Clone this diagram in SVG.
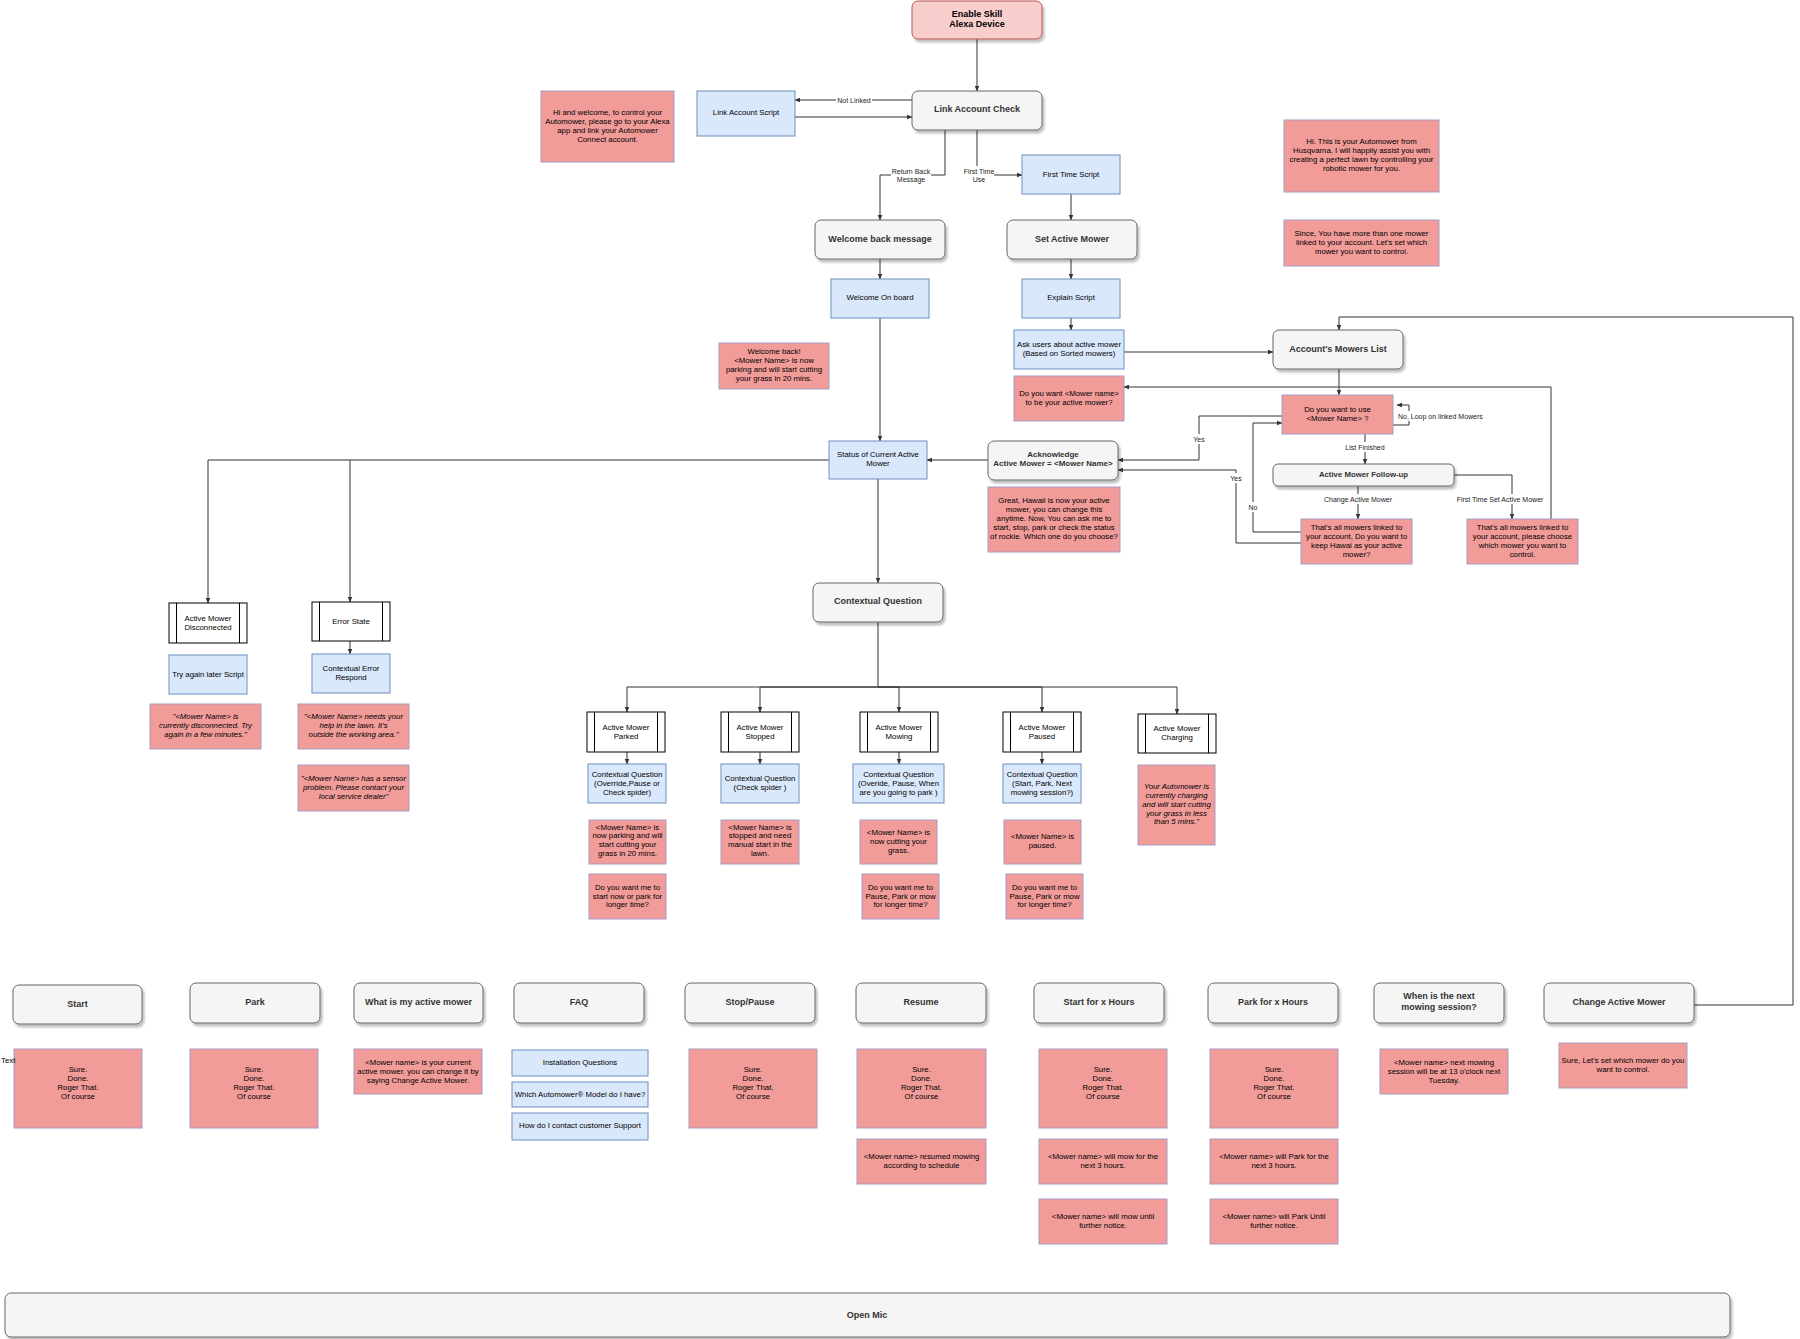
<svg xmlns="http://www.w3.org/2000/svg" width="1800" height="1339" viewBox="0 0 1800 1339">
<defs>
<style>
text{font-family:"Liberation Sans",Arial,Helvetica,sans-serif;text-anchor:middle;fill:#000}
.t{font-size:7.8px}
.ti{font-size:7.8px;font-style:italic}
.tb{font-size:9px;font-weight:bold;fill:#333}
.tb8{font-size:8px;font-weight:bold;fill:#333}
.el{font-size:7px;fill:#222}
.g{fill:#f5f5f5;stroke:#666;stroke-width:1}
.b{fill:#dae8fc;stroke:#6c8ebf;stroke-width:1}
.r{fill:#f19c99;stroke:#a89bc4;stroke-width:1}
.pk{fill:#f8cecc;stroke:#b85450;stroke-width:1}
.p{fill:#fff;stroke:#000;stroke-width:1}
.c{fill:none;stroke:#333;stroke-width:1;marker-end:url(#a)}
.cn{fill:none;stroke:#333;stroke-width:1}
.lb{fill:#fff;stroke:none}
</style>
<marker id="a" viewBox="0 0 10 10" refX="9" refY="5" markerWidth="6" markerHeight="6" orient="auto"><path d="M0,1 L10,5 L0,9 z" fill="#333"/></marker>
<filter id="sh" x="-10%" y="-20%" width="130%" height="160%"><feDropShadow dx="2" dy="3" stdDeviation="1" flood-color="#000" flood-opacity="0.25"/></filter>
</defs>
<rect width="1800" height="1339" fill="#fff"/>

<g id="connectors">
<path class="c" d="M977,39 V91"/>
<path class="c" d="M912,100 H795"/>
<path class="c" d="M795,117 H912"/>
<path class="c" d="M945,130 V175 H880 V220"/>
<path class="c" d="M977,130 V175 H1022"/>
<path class="c" d="M1071,194 V220"/>
<path class="c" d="M880,259 V279"/>
<path class="c" d="M1071,259 V279"/>
<path class="c" d="M1071,318 V330"/>
<path class="c" d="M880,318 V441"/>
<path class="c" d="M1124,352 H1273"/>
<path class="c" d="M1339,369 V395"/>
<path class="c" d="M1393,425 H1409 V405 H1397"/>
<path class="c" d="M1282,416 H1199 V460 H1118"/>
<path class="c" d="M1365,434 V464"/>
<path class="c" d="M1358,486 V519"/>
<path class="c" d="M1454,475 H1512 V519"/>
<path class="c" d="M1301,532 H1253 V423 H1282"/>
<path class="c" d="M1301,543 H1236 V470 H1118"/>
<path class="c" d="M1551,519 V387 H1124"/>
<path class="c" d="M1694,1005 H1793 V317 H1339 V330"/>
<path class="c" d="M988,460 H927"/>
<path class="c" d="M878,479 V583"/>
<path class="c" d="M829,460 H208 V603"/>
<path class="c" d="M350,460 V602"/>
<path class="c" d="M350,641 V654"/>
<path class="c" d="M878,622 V687 H627 V712"/>
<path class="c" d="M878,687 H760 V712"/>
<path class="c" d="M878,687 H899 V712"/>
<path class="c" d="M878,687 H1042 V712"/>
<path class="c" d="M878,687 H1177 V714"/>
<path class="c" d="M627,752 V764"/>
<path class="c" d="M760,752 V764"/>
<path class="c" d="M899,752 V764"/>
<path class="c" d="M1042,752 V764"/>
<rect class="lb" x="836" y="96" width="36" height="9"/>
<text class="el" x="854" y="102.8">Not Linked</text>
<rect class="lb" x="891" y="166" width="40" height="18"/>
<text class="el"><tspan x="911" y="173.5">Return Back</tspan><tspan x="911" y="182.2">Message</tspan></text>
<rect class="lb" x="964" y="166" width="30" height="18"/>
<text class="el"><tspan x="979" y="173.5">First Time</tspan><tspan x="979" y="182.2">Use</tspan></text>
<rect class="lb" x="1397" y="411" width="90" height="10"/>
<text class="el" x="1398" y="419" style="text-anchor:start">No, Loop on linked Mowers</text>
<rect class="lb" x="1192" y="434" width="14" height="10"/>
<text class="el" x="1199" y="441.5">Yes</text>
<rect class="lb" x="1344" y="442" width="42" height="10"/>
<text class="el" x="1365" y="449.5">List Finished</text>
<rect class="lb" x="1324" y="494" width="68" height="10"/>
<text class="el" x="1358" y="501.5">Change Active Mower</text>
<rect class="lb" x="1455" y="494" width="90" height="10"/>
<text class="el" x="1500" y="501.5">First Time Set Active Mower</text>
<rect class="lb" x="1247" y="502" width="12" height="10"/>
<text class="el" x="1253" y="509.5">No</text>
<rect class="lb" x="1229" y="473" width="14" height="10"/>
<text class="el" x="1236" y="480.5">Yes</text>
</g>

<g id="enable-skill"><rect x="912" y="1" width="130" height="38" rx="6" class="pk" filter="url(#sh)"/><text class="tb" style="fill:#000"><tspan x="977" y="16.5">Enable Skill</tspan><tspan x="977" y="27.2">Alexa Device</tspan></text></g>
<g id="link-account-check"><rect x="912" y="91" width="130" height="39" rx="6" class="g" filter="url(#sh)"/><text class="tb" x="977" y="112.2">Link Account Check</text></g>
<g id="link-account-script"><rect x="697" y="91" width="98" height="45" class="b"/><text class="t" x="746" y="115">Link Account Script</text></g>
<g id="hi-welcome"><rect x="541" y="91" width="133" height="71" class="r"/><text class="t"><tspan x="607.5" y="114.7">Hi and welcome, to control your</tspan><tspan x="607.5" y="123.7">Automower, please go to your Alexa</tspan><tspan x="607.5" y="132.7">app and link your Automower</tspan><tspan x="607.5" y="141.7">Connect account.</tspan></text></g>
<g id="first-time-script"><rect x="1022" y="155" width="98" height="39" class="b"/><text class="t" x="1071" y="176.7">First Time Script</text></g>
<g id="welcome-back-message"><rect x="815" y="220" width="130" height="39" rx="6" class="g" filter="url(#sh)"/><text class="tb" x="880" y="241.9">Welcome back message</text></g>
<g id="set-active-mower"><rect x="1007" y="220" width="130" height="39" rx="6" class="g" filter="url(#sh)"/><text class="tb" x="1072" y="241.5">Set Active Mower</text></g>
<g id="welcome-on-board"><rect x="831" y="279" width="98" height="39" class="b"/><text class="t" x="880" y="299.7">Welcome On board</text></g>
<g id="explain-script"><rect x="1022" y="279" width="98" height="39" class="b"/><text class="t" x="1071" y="299.7">Explain Script</text></g>
<g id="ask-users"><rect x="1014" y="330" width="110" height="39" class="b"/><text class="t"><tspan x="1069" y="347">Ask users about active mower</tspan><tspan x="1069" y="356">(Based on Sorted mowers)</tspan></text></g>
<g id="do-you-want-mower-name"><rect x="1014" y="376" width="110" height="45" class="r"/><text class="t"><tspan x="1069" y="395.7">Do you want &lt;Mower name&gt;</tspan><tspan x="1069" y="404.7">to be your active mower?</tspan></text></g>
<g id="accounts-mowers-list"><rect x="1273" y="330" width="130" height="39" rx="6" class="g" filter="url(#sh)"/><text class="tb" x="1338" y="351.5">Account's Mowers List</text></g>
<g id="hi-this-is"><rect x="1284" y="120" width="155" height="72" class="r"/><text class="t"><tspan x="1361.5" y="143.7">Hi. This is your Automower from</tspan><tspan x="1361.5" y="152.7">Husqvarna. I will happily assist you with</tspan><tspan x="1361.5" y="162">creating a perfect lawn by controlling your</tspan><tspan x="1361.5" y="171">robotic mower for you.</tspan></text></g>
<g id="since-you-have"><rect x="1284" y="220" width="155" height="46" class="r"/><text class="t"><tspan x="1361.5" y="235.7">Since, You have more than one mower</tspan><tspan x="1361.5" y="244.7">linked to your account. Let's set which</tspan><tspan x="1361.5" y="254">mower you want to control.</tspan></text></g>
<g id="do-you-want-to-use"><rect x="1282" y="395" width="111" height="39" class="r"/><text class="t"><tspan x="1337.5" y="411.7">Do you want to use</tspan><tspan x="1337.5" y="420.7">&lt;Mower Name&gt; ?</tspan></text></g>
<g id="active-mower-follow-up"><rect x="1273" y="464" width="181" height="22" rx="5" class="g" filter="url(#sh)"/><text class="tb" style="font-size:7.8px" x="1363.5" y="476.8">Active Mower Follow-up</text></g>
<g id="thats-all-keep"><rect x="1301" y="519" width="111" height="45" class="r"/><text class="t"><tspan x="1356.5" y="529.7">That's all mowers linked to</tspan><tspan x="1356.5" y="538.7">your account, Do you want to</tspan><tspan x="1356.5" y="548">keep Hawai as your active</tspan><tspan x="1356.5" y="556.7">mower?</tspan></text></g>
<g id="thats-all-choose"><rect x="1467" y="519" width="111" height="45" class="r"/><text class="t"><tspan x="1522.5" y="529.7">That's all mowers linked to</tspan><tspan x="1522.5" y="538.7">your account, please choose</tspan><tspan x="1522.5" y="548">which mower you want to</tspan><tspan x="1522.5" y="556.7">control.</tspan></text></g>
<g id="acknowledge"><rect x="988" y="441" width="130" height="39" rx="6" class="g" filter="url(#sh)"/><text class="tb8"><tspan x="1053" y="456.6">Acknowledge</tspan><tspan x="1053" y="465.6">Active Mower = &lt;Mower Name&gt;</tspan></text></g>
<g id="great-hawaii"><rect x="988" y="487" width="132" height="65" class="r"/><text class="t"><tspan x="1054" y="503">Great, Hawaii is now your active</tspan><tspan x="1054" y="512">mower, you can change this</tspan><tspan x="1054" y="521">anytime. Now, You can ask me to</tspan><tspan x="1054" y="530">start, stop, park or check the status</tspan><tspan x="1054" y="539.4">of rockie. Which one do you choose?</tspan></text></g>
<g id="welcome-back-note"><rect x="719" y="343" width="110" height="46" class="r"/><text class="t"><tspan x="774" y="354">Welcome back!</tspan><tspan x="774" y="363">&lt;Mower Name&gt; is now</tspan><tspan x="774" y="372.4">parking and will start cutting</tspan><tspan x="774" y="381.4">your grass in 20 mins.</tspan></text></g>
<g id="status-current"><rect x="829" y="441" width="98" height="38" class="b"/><text class="t"><tspan x="878" y="456.7">Status of Current Active</tspan><tspan x="878" y="466">Mower</tspan></text></g>
<g id="contextual-question"><rect x="813" y="583" width="130" height="39" rx="6" class="g" filter="url(#sh)"/><text class="tb" x="878" y="603.9">Contextual Question</text></g>

<g id="mower-disconnected"><rect x="169" y="603" width="78" height="40" class="p"/><path class="cn" d="M176.5,603 V643 M239.5,603 V643" style="stroke:#000"/><text class="t"><tspan x="208" y="621.4">Active Mower</tspan><tspan x="208" y="630">Disconnected</tspan></text></g>
<g id="error-state"><rect x="312" y="602" width="78" height="39" class="p"/><path class="cn" d="M319.5,602 V641 M382.5,602 V641" style="stroke:#000"/><text class="t" x="351" y="624">Error State</text></g>
<g id="try-again-script"><rect x="169" y="655" width="78" height="39" class="b"/><text class="t" x="208" y="677">Try again later Script</text></g>
<g id="contextual-error"><rect x="312" y="654" width="78" height="39" class="b"/><text class="t"><tspan x="351" y="671.4">Contextual Error</tspan><tspan x="351" y="680.4">Respond</tspan></text></g>
<g id="disconnected-note"><rect x="150" y="704" width="111" height="45" class="r"/><text class="ti"><tspan x="205.5" y="719.4">"&lt;Mower Name&gt; is</tspan><tspan x="205.5" y="728.4">currently disconnected. Try</tspan><tspan x="205.5" y="737.4">again in a few minutes."</tspan></text></g>
<g id="needs-help-note"><rect x="298" y="704" width="111" height="45" class="r"/><text class="ti"><tspan x="353.5" y="719.4">"&lt;Mower Name&gt; needs your</tspan><tspan x="353.5" y="728.4">help in the lawn. It's</tspan><tspan x="353.5" y="737.4">outside the working area."</tspan></text></g>
<g id="sensor-note"><rect x="298" y="765" width="111" height="46" class="r"/><text class="ti"><tspan x="353.5" y="781">"&lt;Mower Name&gt; has a sensor</tspan><tspan x="353.5" y="790">problem. Please contact your</tspan><tspan x="353.5" y="799">local service dealer"</tspan></text></g>

<g id="mower-parked"><rect x="587" y="712" width="78" height="40" class="p"/><path class="cn" d="M594.5,712 V752 M657.5,712 V752" style="stroke:#000"/><text class="t"><tspan x="626" y="730">Active Mower</tspan><tspan x="626" y="738.7">Parked</tspan></text></g>
<g id="mower-stopped"><rect x="721" y="712" width="78" height="40" class="p"/><path class="cn" d="M728.5,712 V752 M791.5,712 V752" style="stroke:#000"/><text class="t"><tspan x="760" y="730">Active Mower</tspan><tspan x="760" y="738.7">Stopped</tspan></text></g>
<g id="mower-mowing"><rect x="860" y="712" width="78" height="40" class="p"/><path class="cn" d="M867.5,712 V752 M930.5,712 V752" style="stroke:#000"/><text class="t"><tspan x="899" y="730">Active Mower</tspan><tspan x="899" y="738.7">Mowing</tspan></text></g>
<g id="mower-paused"><rect x="1003" y="712" width="78" height="40" class="p"/><path class="cn" d="M1010.5,712 V752 M1073.5,712 V752" style="stroke:#000"/><text class="t"><tspan x="1042" y="730">Active Mower</tspan><tspan x="1042" y="738.7">Paused</tspan></text></g>
<g id="mower-charging"><rect x="1138" y="714" width="78" height="39" class="p"/><path class="cn" d="M1145.5,714 V753 M1208.5,714 V753" style="stroke:#000"/><text class="t"><tspan x="1177" y="731">Active Mower</tspan><tspan x="1177" y="740">Charging</tspan></text></g>
<g id="cq-parked"><rect x="588" y="764" width="78" height="39" class="b"/><text class="t"><tspan x="627" y="777">Contextual Question</tspan><tspan x="627" y="785.7">(Override,Pause or</tspan><tspan x="627" y="794.7">Check spider)</tspan></text></g>
<g id="cq-stopped"><rect x="721" y="764" width="78" height="39" class="b"/><text class="t"><tspan x="760" y="781.4">Contextual Question</tspan><tspan x="760" y="790">(Check spider )</tspan></text></g>
<g id="cq-mowing"><rect x="853" y="764" width="91" height="39" class="b"/><text class="t"><tspan x="898.5" y="777">Contextual Question</tspan><tspan x="898.5" y="785.7">(Overide, Pause, When</tspan><tspan x="898.5" y="794.7">are you going to park )</tspan></text></g>
<g id="cq-paused"><rect x="1003" y="764" width="78" height="39" class="b"/><text class="t"><tspan x="1042" y="777">Contextual Question</tspan><tspan x="1042" y="785.7">(Start, Park, Next</tspan><tspan x="1042" y="794.7">mowing session?)</tspan></text></g>
<g id="parked-note"><rect x="589" y="820" width="77" height="44" class="r"/><text class="t"><tspan x="627.5" y="829.7">&lt;Mower Name&gt; is</tspan><tspan x="627.5" y="838.4">now parking and will</tspan><tspan x="627.5" y="847.4">start cutting your</tspan><tspan x="627.5" y="856">grass in 20 mins.</tspan></text></g>
<g id="stopped-note"><rect x="721" y="820" width="78" height="44" class="r"/><text class="t"><tspan x="760" y="829.7">&lt;Mower Name&gt; is</tspan><tspan x="760" y="838.4">stopped and need</tspan><tspan x="760" y="847.4">manual start in the</tspan><tspan x="760" y="856">lawn.</tspan></text></g>
<g id="mowing-note"><rect x="860" y="820" width="77" height="44" class="r"/><text class="t"><tspan x="898.5" y="835">&lt;Mower Name&gt; is</tspan><tspan x="898.5" y="844">now cutting your</tspan><tspan x="898.5" y="853">grass.</tspan></text></g>
<g id="paused-note"><rect x="1004" y="820" width="77" height="44" class="r"/><text class="t"><tspan x="1042.5" y="839.4">&lt;Mower Name&gt; is</tspan><tspan x="1042.5" y="848.4">paused.</tspan></text></g>
<g id="charging-note"><rect x="1138" y="765" width="77" height="80" class="r"/><text class="ti"><tspan x="1176.5" y="789.4">Your Automower is</tspan><tspan x="1176.5" y="798">currently charging</tspan><tspan x="1176.5" y="806.7">and will start cutting</tspan><tspan x="1176.5" y="815.7">your grass in less</tspan><tspan x="1176.5" y="824.4">than 5 mins."</tspan></text></g>
<g id="parked-question"><rect x="589" y="874" width="77" height="45" class="r"/><text class="t"><tspan x="627.5" y="889.7">Do you want me to</tspan><tspan x="627.5" y="898.7">start now or park for</tspan><tspan x="627.5" y="907.4">longer time?</tspan></text></g>
<g id="mowing-question"><rect x="862" y="874" width="77" height="45" class="r"/><text class="t"><tspan x="900.5" y="889.7">Do you want me to</tspan><tspan x="900.5" y="898.7">Pause, Park or mow</tspan><tspan x="900.5" y="907.4">for longer time?</tspan></text></g>
<g id="paused-question"><rect x="1006" y="874" width="77" height="45" class="r"/><text class="t"><tspan x="1044.5" y="889.7">Do you want me to</tspan><tspan x="1044.5" y="898.7">Pause, Park or mow</tspan><tspan x="1044.5" y="907.4">for longer time?</tspan></text></g>

<g id="intent-start"><rect x="13" y="985" width="129" height="39" rx="6" class="g" filter="url(#sh)"/><text class="tb" x="77.5" y="1007">Start</text></g>
<g id="intent-start-reply"><rect x="14" y="1049" width="128" height="79" class="r"/><text class="t"><tspan x="78" y="1071.7">Sure.</tspan><tspan x="78" y="1081">Done.</tspan><tspan x="78" y="1090">Roger That.</tspan><tspan x="78" y="1099">Of course</tspan></text></g>
<g id="text-label"><text class="t" x="1" y="1062.7" style="text-anchor:start">Text</text></g>
<g id="intent-park"><rect x="190" y="983" width="130" height="40" rx="6" class="g" filter="url(#sh)"/><text class="tb" x="255" y="1005">Park</text></g>
<g id="intent-park-reply"><rect x="190" y="1049" width="128" height="79" class="r"/><text class="t"><tspan x="254" y="1071.7">Sure.</tspan><tspan x="254" y="1081">Done.</tspan><tspan x="254" y="1090">Roger That.</tspan><tspan x="254" y="1099">Of course</tspan></text></g>
<g id="intent-what-active"><rect x="354" y="983" width="129" height="40" rx="6" class="g" filter="url(#sh)"/><text class="tb" x="418.5" y="1005">What is my active mower</text></g>
<g id="intent-what-active-reply"><rect x="354" y="1049" width="128" height="45" class="r"/><text class="t"><tspan x="418" y="1064.7">&lt;Mower name&gt; is your current</tspan><tspan x="418" y="1073.7">active mower. you can change it by</tspan><tspan x="418" y="1082.7">saying Change Active Mower.</tspan></text></g>
<g id="intent-faq"><rect x="514" y="983" width="130" height="40" rx="6" class="g" filter="url(#sh)"/><text class="tb" x="579" y="1005">FAQ</text></g>
<g id="faq-installation"><rect x="512" y="1050" width="136" height="26" class="b"/><text class="t" x="580" y="1065.4">Installation Questions</text></g>
<g id="faq-model"><rect x="512" y="1082" width="136" height="25" class="b"/><text class="t" x="580" y="1097">Which Automower® Model do I have?</text></g>
<g id="faq-support"><rect x="512" y="1113" width="136" height="27" class="b"/><text class="t" x="580" y="1128.4">How do I contact customer Support</text></g>
<g id="intent-stop"><rect x="685" y="983" width="130" height="40" rx="6" class="g" filter="url(#sh)"/><text class="tb" x="750" y="1005">Stop/Pause</text></g>
<g id="intent-stop-reply"><rect x="689" y="1049" width="128" height="79" class="r"/><text class="t"><tspan x="753" y="1071.7">Sure.</tspan><tspan x="753" y="1081">Done.</tspan><tspan x="753" y="1090">Roger That.</tspan><tspan x="753" y="1099">Of course</tspan></text></g>
<g id="intent-resume"><rect x="856" y="983" width="130" height="40" rx="6" class="g" filter="url(#sh)"/><text class="tb" x="921" y="1005">Resume</text></g>
<g id="intent-resume-reply"><rect x="857" y="1049" width="129" height="79" class="r"/><text class="t"><tspan x="921.5" y="1071.7">Sure.</tspan><tspan x="921.5" y="1081">Done.</tspan><tspan x="921.5" y="1090">Roger That.</tspan><tspan x="921.5" y="1099">Of course</tspan></text></g>
<g id="intent-resume-reply2"><rect x="857" y="1139" width="129" height="45" class="r"/><text class="t"><tspan x="921.5" y="1159.4">&lt;Mower name&gt; resumed mowing</tspan><tspan x="921.5" y="1168.4">according to schedule</tspan></text></g>
<g id="intent-start-hours"><rect x="1034" y="983" width="130" height="40" rx="6" class="g" filter="url(#sh)"/><text class="tb" x="1099" y="1005">Start for x Hours</text></g>
<g id="start-hours-reply"><rect x="1039" y="1049" width="128" height="79" class="r"/><text class="t"><tspan x="1103" y="1071.7">Sure.</tspan><tspan x="1103" y="1081">Done.</tspan><tspan x="1103" y="1090">Roger That.</tspan><tspan x="1103" y="1099">Of course</tspan></text></g>
<g id="start-hours-reply2"><rect x="1039" y="1139" width="128" height="45" class="r"/><text class="t"><tspan x="1103" y="1159.4">&lt;Mower name&gt; will mow for the</tspan><tspan x="1103" y="1168.4">next 3 hours.</tspan></text></g>
<g id="start-hours-reply3"><rect x="1039" y="1199" width="128" height="45" class="r"/><text class="t"><tspan x="1103" y="1219">&lt;Mower name&gt; will mow until</tspan><tspan x="1103" y="1228">further notice.</tspan></text></g>
<g id="intent-park-hours"><rect x="1208" y="983" width="130" height="40" rx="6" class="g" filter="url(#sh)"/><text class="tb" x="1273" y="1005">Park for x Hours</text></g>
<g id="park-hours-reply"><rect x="1210" y="1049" width="128" height="79" class="r"/><text class="t"><tspan x="1274" y="1071.7">Sure.</tspan><tspan x="1274" y="1081">Done.</tspan><tspan x="1274" y="1090">Roger That.</tspan><tspan x="1274" y="1099">Of course</tspan></text></g>
<g id="park-hours-reply2"><rect x="1210" y="1139" width="128" height="45" class="r"/><text class="t"><tspan x="1274" y="1159.4">&lt;Mower name&gt; will Park for the</tspan><tspan x="1274" y="1168.4">next 3 hours.</tspan></text></g>
<g id="park-hours-reply3"><rect x="1210" y="1199" width="128" height="45" class="r"/><text class="t"><tspan x="1274" y="1219">&lt;Mower name&gt; will Park Until</tspan><tspan x="1274" y="1228">further notice.</tspan></text></g>
<g id="intent-next-session"><rect x="1374" y="983" width="130" height="40" rx="6" class="g" filter="url(#sh)"/><text class="tb"><tspan x="1439" y="998.9">When is the next</tspan><tspan x="1439" y="1009.9">mowing session?</tspan></text></g>
<g id="next-session-reply"><rect x="1380" y="1049" width="128" height="45" class="r"/><text class="t"><tspan x="1444" y="1065">&lt;Mower name&gt; next mowing</tspan><tspan x="1444" y="1074">session will be at 13 o'clock next</tspan><tspan x="1444" y="1083">Tuesday.</tspan></text></g>
<g id="intent-change-active"><rect x="1544" y="983" width="150" height="40" rx="6" class="g" filter="url(#sh)"/><text class="tb" x="1619" y="1005">Change Active Mower</text></g>
<g id="change-active-reply"><rect x="1559" y="1043" width="128" height="45" class="r"/><text class="t"><tspan x="1623" y="1063">Sure, Let's set which mower do you</tspan><tspan x="1623" y="1072">want to control.</tspan></text></g>

<g id="open-mic"><rect x="5" y="1293" width="1725" height="44" rx="6" class="g" filter="url(#sh)"/><text class="tb" x="867" y="1318">Open Mic</text></g>
</svg>
